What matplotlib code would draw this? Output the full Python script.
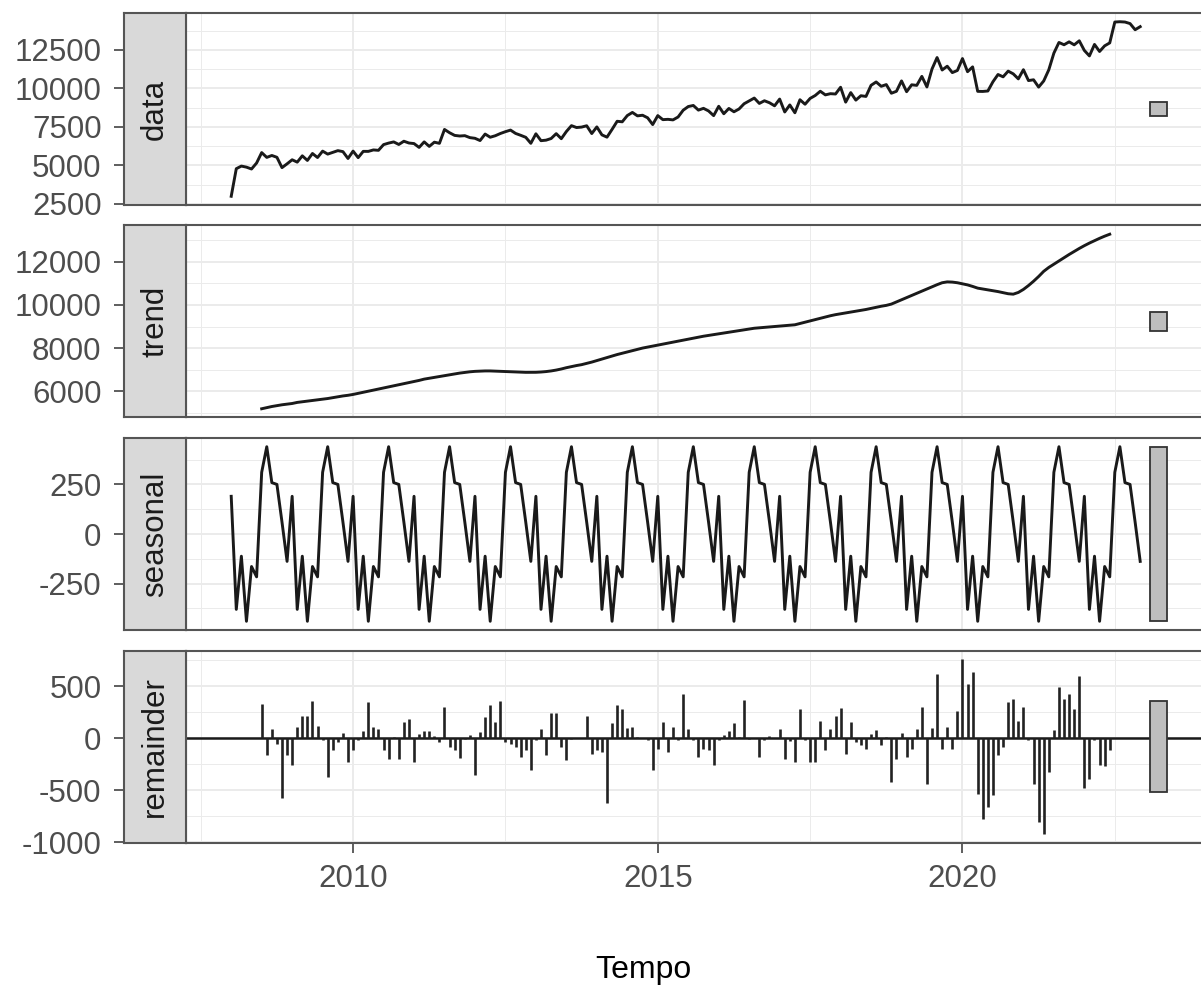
import numpy as np
import matplotlib
matplotlib.use("Agg")
import matplotlib.pyplot as plt
from matplotlib.patches import Rectangle
from matplotlib.ticker import MultipleLocator, AutoMinorLocator, FuncFormatter

plt.rcParams["font.family"] = ["Liberation Sans", "DejaVu Sans"]
plt.rcParams["axes.unicode_minus"] = False

# monthly series, Jan 2008 - Dec 2022, classical additive decomposition
START_YEAR = 2008
FREQ = 12
N_OBS = 180
HALF_WINDOW = 6  # trend / remainder missing at both ends

# observed values where trend is not defined
data_head = [2990, 4780, 4950, 4880, 4760, 5150]          # Jan-Jun 2008
data_tail = [14300, 14320, 14300, 14200, 13800, 14000]    # Jul-Dec 2022

seasonal_pattern = [190, -380, -112, -440, -164, -216, 311, 440, 259, 250, 60, -138]

trend_vals = [
    5185, 5240, 5290, 5330, 5370, 5400,
    5430, 5480, 5510, 5540, 5570, 5600, 5630, 5660, 5700, 5740, 5780, 5810,
    5850, 5900, 5950, 6000, 6050, 6100, 6150, 6200, 6250, 6300, 6350, 6400,
    6450, 6500, 6560, 6600, 6640, 6680, 6720, 6760, 6800, 6840, 6870, 6900,
    6920, 6930, 6940, 6940, 6930, 6920, 6910, 6900, 6890, 6880, 6875, 6875,
    6877, 6890, 6910, 6940, 6980, 7030, 7090, 7140, 7190, 7231, 7290, 7350,
    7420, 7490, 7560, 7630, 7700, 7760, 7820, 7880, 7940, 8000, 8046, 8092,
    8138, 8184, 8230, 8276, 8322, 8368, 8414, 8460, 8506, 8550, 8587, 8624,
    8661, 8698, 8735, 8772, 8809, 8846, 8883, 8920, 8940, 8960, 8980, 9000,
    9020, 9040, 9060, 9080, 9140, 9200, 9260, 9320, 9380, 9440, 9500, 9550,
    9590, 9630, 9670, 9710, 9750, 9790, 9840, 9890, 9940, 9980, 10040, 10140,
    10240, 10340, 10440, 10540, 10640, 10740, 10840, 10940, 11030, 11070, 11060, 11030,
    10980, 10930, 10860, 10780, 10740, 10700, 10660, 10620, 10570, 10520, 10500, 10580,
    10720, 10900, 11100, 11320, 11560, 11740, 11890, 12040, 12190, 12340, 12480, 12620,
    12750, 12870, 12980, 13090, 13190, 13280,
]

remainder_vals = [
    329, -166, 89, -60, -580, -166,
    -261, 105, 217, 217, 360, 121, -20, -373, -118, -38, 48, -229,
    -118, -22, 67, 344, 112, 89, -118, -198, 10, -198, 153, 185,
    -229, 41, 73, 67, 25, -38, 296, -86, -118, -188, -6, 35,
    -357, 57, 201, 322, 153, 360, -38, -54, -80, -182, -118, -309,
    -22, 89, -166, 239, 239, -86, -207, -6, 3, 0, 217, -150,
    -118, -134, -621, 143, 322, 280, 99, 112, 10, 0, -22, -309,
    -102, 160, -134, 112, -22, 424, 89, -16, -182, -102, -118, -261,
    -20, 30, 67, 143, 10, 366, -10, 5, -182, -20, 20, 0,
    89, -198, -30, -229, 280, -20, -229, -229, 169, -118, 89, 217,
    287, -150, 160, -38, -70, -102, 41, 80, -70, 10, -421, -198,
    48, -182, -102, 89, 296, -437, 99, 615, -102, 112, -102, 264,
    760, 526, 641, -539, -781, -660, -548, -166, -86, 344, 376, 169,
    296, -20, -437, -803, -920, -325, 80, 494, 376, 424, 280, 599,
    -484, -389, -22, -261, -271, -118,
]

panel_names = ["data", "trend", "seasonal", "remainder"]
tick_steps = [2500, 2000, 250, 500]

# ---- assemble components
time = START_YEAR + np.arange(N_OBS) / FREQ
inner = slice(HALF_WINDOW, N_OBS - HALF_WINDOW)
seasonal = np.tile(np.array(seasonal_pattern, float), N_OBS // FREQ)
trend = np.full(N_OBS, np.nan)
trend[inner] = trend_vals
remainder = np.full(N_OBS, np.nan)
remainder[inner] = remainder_vals
data = np.empty(N_OBS)
data[:HALF_WINDOW] = data_head
data[-HALF_WINDOW:] = data_tail
data[inner] = trend[inner] + seasonal[inner] + remainder[inner]
series = [data, trend, seasonal, remainder]

bar_len = min(np.nanmax(s) - np.nanmin(s) for s in series)

# ---- layout (pixels of a 1201x986 canvas)
W, H = 1201, 986
fig = plt.figure(figsize=(W / 100, H / 100), dpi=100)
panel_left, panel_right = 186, 1205
strip_left = 124
panel_tops = [13, 225.5, 438, 650.5]
panel_h = 192
xlim = (2007.258, 2023.98)
bar_x = time[-1] + 0.30
bar_w = 0.28

FS = 22.5
ink = "#1A1A1A"
border = "#555555"
grid_c = "#EBEBEB"

for i, (name, vals, step) in enumerate(zip(panel_names, series, tick_steps)):
    b = 1 - (panel_tops[i] + panel_h) / H
    h = panel_h / H
    ax = fig.add_axes([panel_left / W, b, (panel_right - panel_left) / W, h])
    sax = fig.add_axes([strip_left / W, b, (panel_left - strip_left) / W, h], sharey=ax)

    if name == "remainder":
        ax.axhline(0, color=ink, lw=1.8, zorder=2)
        ax.vlines(time, 0, vals, color="#222222", lw=1.9, zorder=3)
    else:
        ax.plot(time, vals, color=ink, lw=2.1, zorder=3)

    lo, hi = np.nanmin(vals), np.nanmax(vals)
    mid = (lo + hi) / 2
    ax.add_patch(Rectangle((bar_x - bar_w / 2, mid - bar_len / 2), bar_w, bar_len,
                           facecolor="#BEBEBE", edgecolor="#333333", lw=1.3, zorder=4))
    pad = 0.05 * (hi - lo)
    ax.set_ylim(lo - pad, hi + pad)
    ax.set_xlim(*xlim)

    ax.yaxis.set_major_locator(MultipleLocator(step))
    ax.yaxis.set_minor_locator(AutoMinorLocator(2))
    ax.yaxis.set_major_formatter(FuncFormatter(lambda v, p: f"{v:g}"))
    ax.xaxis.set_major_locator(MultipleLocator(5))
    ax.xaxis.set_minor_locator(AutoMinorLocator(2))

    ax.set_axisbelow(True)
    ax.grid(which="major", color=grid_c, lw=1.4)
    ax.grid(which="minor", color=grid_c, lw=0.7)
    ax.tick_params(axis="y", which="both", left=False, labelleft=False)
    for sp in ax.spines.values():
        sp.set_color(border)
        sp.set_linewidth(1.5)

    if name == "remainder":
        ax.tick_params(axis="x", which="major", length=7.2, width=1.1, color="#333333",
                       labelsize=FS, labelcolor="#4D4D4D", pad=8)
        ax.tick_params(axis="x", which="minor", length=0)
    else:
        ax.tick_params(axis="x", which="both", length=0, labelbottom=False)

    # strip on the left carries the y axis
    sax.set_facecolor("#D9D9D9")
    for sp in sax.spines.values():
        sp.set_color(border)
        sp.set_linewidth(1.5)
    sax.tick_params(axis="x", which="both", bottom=False, labelbottom=False)
    sax.tick_params(axis="y", which="major", length=7.2, width=1.1, color="#333333",
                    labelsize=FS, labelcolor="#4D4D4D", pad=9)
    sax.tick_params(axis="y", which="minor", length=0)
    sax.text(0.5, 0.5, name, rotation=90, transform=sax.transAxes, ha="center",
             va="center", fontsize=FS, color=ink)

fig.text(643 / W, 1 - 970 / H, "Tempo", ha="center", va="center", fontsize=23, color="black")

fig.savefig("out.png", dpi=100)
